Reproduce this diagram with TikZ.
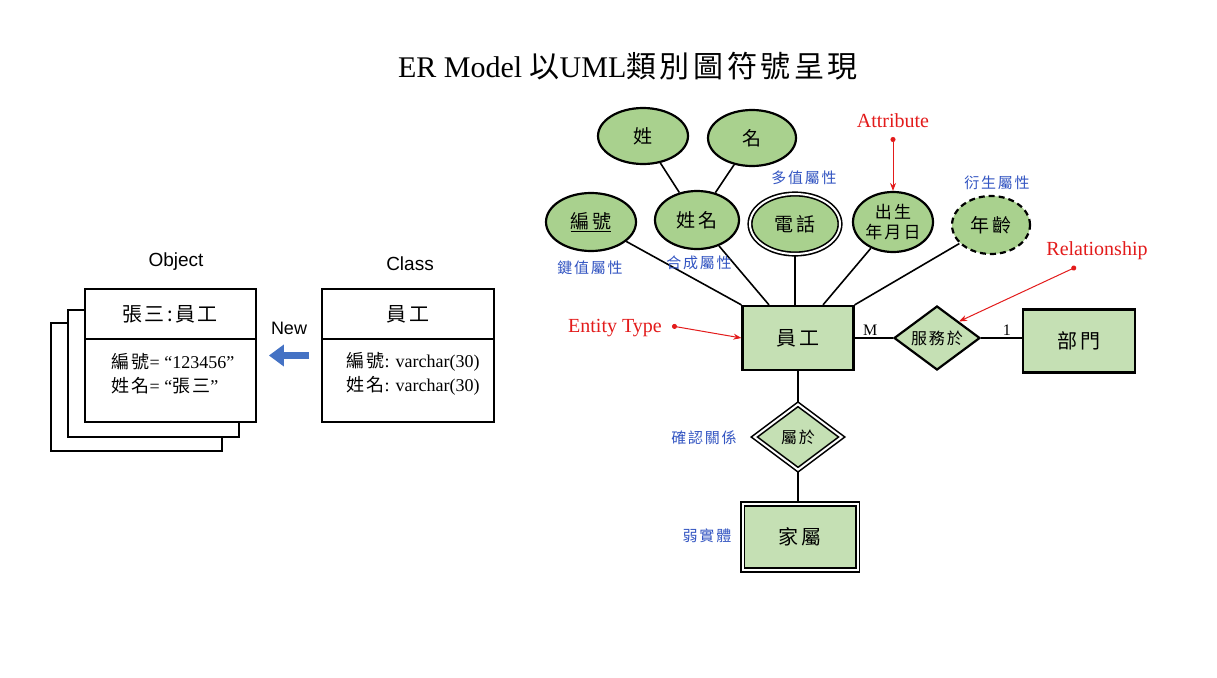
\documentclass[tikz,border=0pt]{standalone}
\usepackage{fontspec}
\setmainfont{Liberation Serif}
\setsansfont{Liberation Sans}
\newfontfamily\cjk[LetterSpace=12]{Noto Sans CJK TC}
\usetikzlibrary{shapes.geometric,arrows.meta}
\definecolor{entgreen}{HTML}{C5E0B4}
\definecolor{attgreen}{HTML}{A9D18E}
\definecolor{notered}{HTML}{E31B1B}
\definecolor{noteblue}{HTML}{3355C2}
\definecolor{newblue}{HTML}{4472C4}
\begin{document}
\begin{tikzpicture}[x=1pt,y=-1pt,
  objbox/.style={draw,line width=1.8pt,fill=white,minimum width=171,minimum height=128},
  head/.style={font=\cjk\fontsize{20}{24}\selectfont},
  field/.style={anchor=west,font=\fontsize{18}{22}\selectfont},
  caption/.style={font=\sffamily\fontsize{19}{23}\selectfont},
  ent/.style={draw,line width=2.2pt,fill=entgreen,minimum width=111,minimum height=64,font=\cjk\fontsize{20}{24}\selectfont},
  attr/.style={draw,ellipse,line width=2.2pt,fill=attgreen,inner sep=0pt,minimum width=88,minimum height=58,font=\cjk\fontsize{19}{23}\selectfont},
  rel/.style={draw,diamond,aspect=1.34,line width=2.2pt,fill=entgreen,inner sep=0pt,minimum width=86,minimum height=64,font=\cjk\fontsize{16}{20}\selectfont},
  twin/.style={double=white,double distance=2pt,line width=1.6pt},
  link/.style={line width=1.6pt},
  card/.style={font=\fontsize{16}{20}\selectfont,inner sep=2pt},
  tag/.style={text=notered,font=\fontsize{20}{24}\selectfont},
  pointer/.style={draw=notered,line width=1pt,{Circle[length=5pt]}-{Stealth[length=8pt,width=6pt]}},
  hint/.style={text=noteblue,font=\cjk\fontsize{15}{18}\selectfont}]

\path[use as bounding box,fill=white] (0,0) rectangle (1217,677);

\node[font=\fontsize{30}{36}\selectfont] (title) at (628,66) {ER Model {\cjk 以}UML{\cjk 類別圖符號呈現}};

\node[objbox] (obj3) at (136.5,387) {};
\node[objbox,minimum height=127] (obj2) at (153.5,373.5) {};
\node[objbox,minimum height=133] (obj) at (170.5,355.5) {};
\draw[line width=1.8pt] (obj.north west) ++(0,51) -- ++(171,0);
\node[caption] (objcap) at (176,262) {Object};
\node[head] (objname) at (170,314) {張三:員工};
\node[field] (o1) at (108,362) {{\cjk 編號}= “123456”};
\node[field] (o2) at (108,386) {{\cjk 姓名}= “{\cjk 張三}”};

\node[objbox,minimum width=172,minimum height=133] (cls) at (408,355.5) {};
\draw[line width=1.8pt] (cls.north west) ++(0,51) -- ++(172,0);
\node[caption] (clscap) at (410,264) {Class};
\node[head] (clsname) at (408,314) {員工};
\node[field] (c1) at (343,362) {{\cjk 編號}: varchar(30)};
\node[field] (c2) at (343,386) {{\cjk 姓名}: varchar(30)};

\node[caption,font=\sffamily\fontsize{18}{22}\selectfont] (new) at (289,328) {New};
\draw[newblue,line width=7pt,-{Triangle[length=15pt,width=21pt]},shorten <=12pt,shorten >=12pt] (cls.west) -- (obj.east);

\node[attr,minimum width=90,minimum height=56] (sur) at (643,136) {姓};
\node[attr,minimum height=56] (given) at (752,138) {名};
\node[attr,minimum width=90] (id) at (591,222) {\underline{編號}};
\node[attr,minimum width=84] (name) at (697,220) {姓名};
\node[attr,twin,minimum width=90,minimum height=60] (phone) at (795,224) {電話};
\node[attr,minimum width=80,minimum height=60,align=center,font=\cjk\fontsize{17}{20}\selectfont] (birth) at (893,222) {出生\\年月日};
\node[attr,dashed,dash pattern=on 6pt off 4pt,minimum width=78] (age) at (991,225) {年齡};

\node[ent] (emp) at (798,338) {員工};
\node[rel] (works) at (937,338) {服務於};
\node[ent,minimum width=112,minimum height=63] (dept) at (1079,341) {部門};
\node[rel,twin,minimum width=88,minimum height=66] (belong) at (798,437) {屬於};
\node[ent,twin,minimum width=115,minimum height=66] (family) at (800,537) {家屬};

\path[draw,link] (sur) -- (name);
\path[draw,link] (given) -- (name);
\path[draw,link] (id) -- (emp.north west);
\path[draw,link] (name) -- ([xshift=-29pt]emp.north);
\path[draw,link] (phone.south) -- (phone.south |- emp.north);
\path[draw,link] (birth) -- ([xshift=25pt]emp.north);
\path[draw,link] (age) -- (emp.north east);
\path[draw,link] (emp.east) -- node[card,pos=0.41,above] {M} (works.west);
\path[draw,link] (works.east) -- node[card,pos=0.63,above] {1} (works.east -| dept.west);
\path[draw,link] (emp.south) -- (belong.north);
\path[draw,link] (belong.south) -- (belong.south |- family.north);

\node[tag] (atttag) at (893,121) {Attribute};
\node[tag] (reltag) at (1097,251) {Relationship};
\node[tag] (enttag) at (615,328) {Entity Type};
\coordinate (attdot) at (893,137);
\coordinate (reldot) at (1076,267);
\coordinate (entdot) at (672,326);
\path[pointer] (attdot) -- (birth.north);
\path[pointer] (reldot) -- (works.north east);
\path[pointer] (entdot) -- (emp.west);

\node[hint] (keyhint) at (590,268) {鍵值屬性};
\node[hint] (comphint) at (699,263) {合成屬性};
\node[hint] (multihint) at (804,178) {多值屬性};
\node[hint] (derivhint) at (997,183) {衍生屬性};
\node[hint] (idhint) at (704,438) {確認關係};
\node[hint] (weakhint) at (707,536) {弱實體};
\end{tikzpicture}
\end{document}
